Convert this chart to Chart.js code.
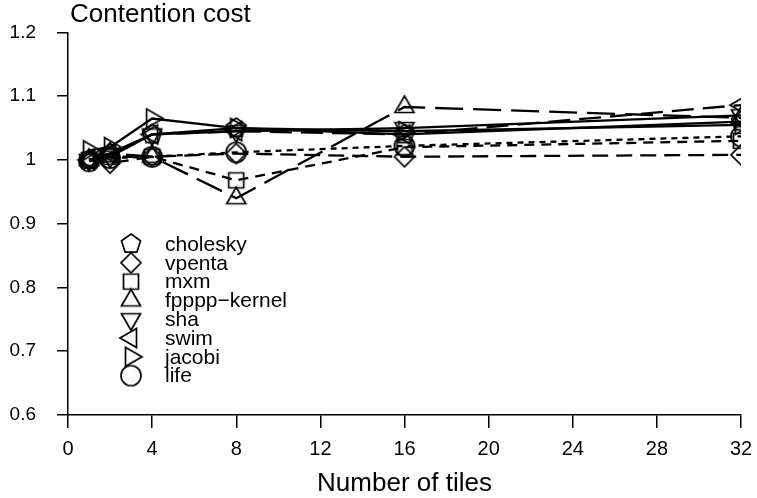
<!DOCTYPE html>
<html>
<head>
<meta charset="utf-8">
<script src="https://cdn.jsdelivr.net/npm/chart.js@4"></script>
<style>
  html, body { margin: 0; padding: 0; background: #fff; }
  #wrap { width: 757px; height: 498px; position: relative; }
</style>
</head>
<body>
<div id="wrap"><canvas id="c"></canvas></div>
<script>
// === Duomenys ===
const tiles = [1, 2, 4, 8, 16, 32];
const seriesNames = ['cholesky', 'vpenta', 'mxm', 'fpppp\u2212kernel', 'sha', 'swim', 'jacobi', 'life'];
const cholesky = [1.000, 1.010, 1.040, 1.050, 1.040, 1.060];
const vpenta   = [1.000, 0.995, 1.005, 1.010, 1.005, 1.008];
const mxm      = [1.000, 1.005, 1.005, 0.968, 1.020, 1.030];
const fpppp    = [1.000, 1.010, 1.005, 0.940, 1.083, 1.066];
const sha      = [1.000, 1.005, 1.040, 1.045, 1.050, 1.070];
const swim     = [1.000, 1.010, 1.040, 1.045, 1.040, 1.086];
const jacobi   = [1.015, 1.020, 1.065, 1.050, 1.045, 1.055];
const life     = [0.998, 1.003, 1.005, 1.012, 1.022, 1.037];
const yTicks = [0.6, 0.7, 0.8, 0.9, 1.0, 1.1, 1.2];
const xTicks = [0, 4, 8, 12, 16, 20, 24, 28, 32];

const FONT = 'Liberation Sans, Arial, sans-serif';

// === Žymekliai ===
function marker(kind) {
    const s = 26, c = s / 2;
    const cv = document.createElement('canvas');
    cv.width = s; cv.height = s;
    const g = cv.getContext('2d');
    g.strokeStyle = '#000';
    g.lineWidth = 1.7;
    g.beginPath();
    const poly = (n, r, rot) => {
        for (let i = 0; i < n; i++) {
            const a = rot + i * 2 * Math.PI / n;
            const px = c + r * Math.cos(a), py = c + r * Math.sin(a);
            i ? g.lineTo(px, py) : g.moveTo(px, py);
        }
        g.closePath();
    };
    if (kind === 'pentagon') poly(5, 10, -Math.PI / 2);
    else if (kind === 'diamond') poly(4, 10, -Math.PI / 2);
    else if (kind === 'square') g.rect(c - 7.5, c - 7.5, 15, 15);
    else if (kind === 'up') poly(3, 11, -Math.PI / 2);
    else if (kind === 'down') poly(3, 11, Math.PI / 2);
    else if (kind === 'left') poly(3, 11, Math.PI);
    else if (kind === 'right') poly(3, 11, 0);
    else g.arc(c, c, 10, 0, 2 * Math.PI);
    g.stroke();
    return cv;
}

const markers = ['pentagon', 'diamond', 'square', 'up', 'down', 'left', 'right', 'circle'].map(marker);
const values = [cholesky, vpenta, mxm, fpppp, sha, swim, jacobi, life];
const dashes = [[], [16, 8], [10, 7], [28, 10], [], [22, 9], [], [6, 5]];

const datasets = values.map((v, i) => ({
    label: seriesNames[i],
    data: tiles.map((t, j) => ({ x: t, y: v[j] })),
    borderColor: '#000',
    borderWidth: 2.3,
    borderDash: dashes[i],
    pointStyle: markers[i],
    pointRadius: 10,
    fill: false,
    tension: 0
}));

// === Antraštės ir legenda ===
const decor = {
    id: 'decor',
    afterDraw(chart) {
        const ctx = chart.ctx;
        ctx.save();
        ctx.fillStyle = '#000';
        ctx.textBaseline = 'middle';
        ctx.textAlign = 'left';
        ctx.font = '26px ' + FONT;
        ctx.fillText('Contention cost', 70, 15);
        ctx.textAlign = 'center';
        ctx.fillText('Number of tiles', (chart.chartArea.left + chart.chartArea.right) / 2, 484);
        ctx.textAlign = 'left';
        ctx.font = '21px ' + FONT;
        seriesNames.forEach((n, i) => {
            const y = 244 + i * 18.8;
            ctx.drawImage(markers[i], 131 - 13, y - 13);
            ctx.fillText(n, 165, y + 1);
        });
        ctx.restore();
    }
};

new Chart(document.getElementById('c'), {
    type: 'line',
    data: { datasets },
    options: {
        responsive: true,
        maintainAspectRatio: false,
        animation: false,
        layout: { padding: { top: 32, right: 16, left: 0, bottom: 0 } },
        plugins: { legend: { display: false }, tooltip: { enabled: false } },
        scales: {
            x: {
                type: 'linear', min: 0, max: 32,
                afterBuildTicks: s => { s.ticks = xTicks.map(v => ({ value: v })); },
                afterFit: s => { s.height = 83; s.paddingRight = 0; s.paddingLeft = 0; },
                border: { display: true, color: '#000', width: 1.5 },
                grid: { drawOnChartArea: false, color: '#000', tickLength: 13, lineWidth: 1.5 },
                ticks: { color: '#000', font: { family: FONT, size: 20 }, padding: 9, maxRotation: 0 }
            },
            y: {
                min: 0.6, max: 1.2,
                afterBuildTicks: s => { s.ticks = yTicks.map(v => ({ value: v })); },
                afterFit: s => { s.width = 68; },
                border: { display: true, color: '#000', width: 1.5 },
                grid: { drawOnChartArea: false, color: '#000', tickLength: 11, lineWidth: 1.5 },
                ticks: {
                    color: '#000', font: { family: FONT, size: 19 }, padding: 21,
                    callback: v => String(Number(v.toFixed(1)))
                }
            }
        }
    },
    plugins: [decor]
});
</script>
</body>
</html>
